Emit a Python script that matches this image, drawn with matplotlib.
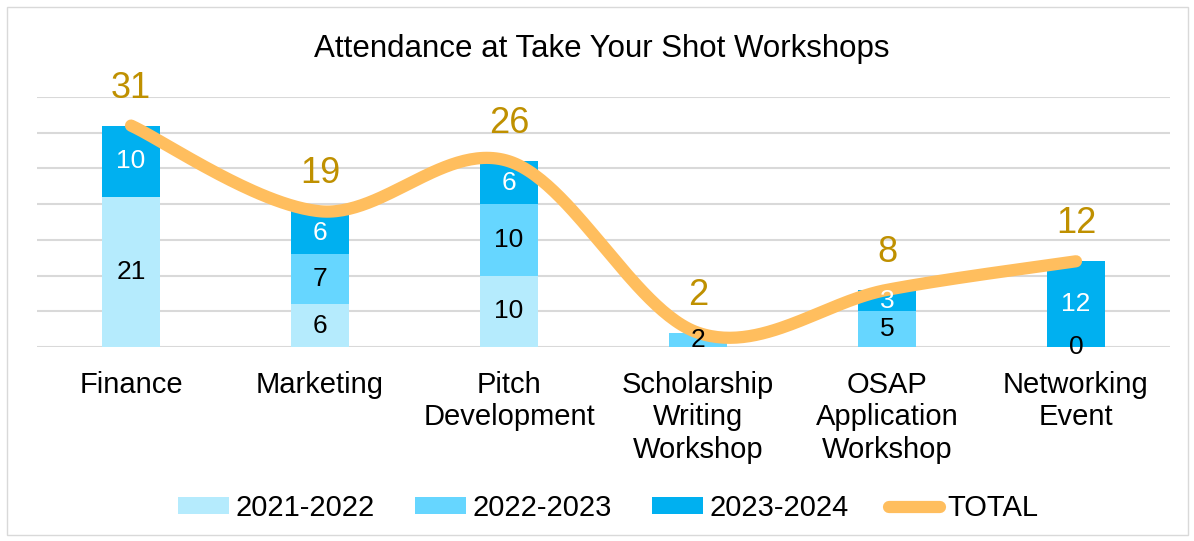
import numpy as np
import matplotlib
matplotlib.use('Agg')
import matplotlib.pyplot as plt
from matplotlib.patches import Rectangle

plt.rcParams['font.family'] = ['Liberation Sans', 'DejaVu Sans']

# data
categories = ["Finance", "Marketing", "Pitch\nDevelopment",
              "Scholarship\nWriting\nWorkshop", "OSAP\nApplication\nWorkshop",
              "Networking\nEvent"]
y2122 = [21, 6, 10, None, None, 0]
y2223 = [None, 7, 10, 2, 5, None]
y2324 = [10, 6, 6, None, 3, 12]
total = [31, 19, 26, 2, 8, 12]
series_names = ["2021-2022", "2022-2023", "2023-2024"]
series_colors = ["#B5EBFD", "#66D6FF", "#00B0F0"]
label_colors = ["black", "black", "white"]


def smooth(xs, ys, n=60):
  # Bezier smoothing like the office "smoothed line"
  pts = np.column_stack([xs, ys]).astype(float)
  out = []
  for i in range(len(pts) - 1):
    p0 = pts[i - 1] if i > 0 else pts[i]
    p1 = pts[i]
    p2 = pts[i + 1]
    p3 = pts[i + 2] if i + 2 < len(pts) else pts[i + 1]
    c1 = p1 + (p2 - p0) / 6.0
    c2 = p2 - (p3 - p1) / 6.0
    t = np.linspace(0, 1, n)[:, None]
    seg = ((1 - t) ** 3) * p1 + 3 * ((1 - t) ** 2) * t * c1 + \
          3 * (1 - t) * t ** 2 * c2 + t ** 3 * p2
    out.append(seg if i == 0 else seg[1:])
  out = np.vstack(out)
  return out[:, 0], out[:, 1]


fig = plt.figure(figsize=(11.94, 5.41), dpi=100)
ax = fig.add_axes([0.0306, 0.3586, 0.9497, 0.4621])

x = np.arange(len(categories))
bottom = np.zeros(len(categories))
for vals, name, col, lcol in zip([y2122, y2223, y2324], series_names,
                                 series_colors, label_colors):
  v = np.array([0 if a is None else a for a in vals], dtype=float)
  ax.bar(x, v, 0.31, bottom=bottom, color=col, label=name, zorder=2)
  for i, a in enumerate(vals):
    if a is not None:
      ax.text(x[i], bottom[i] + v[i] / 2.0, str(a), ha='center',
              va='center', fontsize=19, color=lcol, zorder=4)
  bottom += v

sx, sy = smooth(x, total)
ax.plot(sx, sy, color='#FFBE5E', lw=8.8, solid_capstyle='round', zorder=3,
        label='TOTAL')
for i, t in enumerate(total):
  ax.annotate(str(t), xy=(x[i], t), xytext=(0, 27), textcoords='offset points',
              ha='center', va='center', fontsize=26, color='#BF9000',
              zorder=5)

ax.set_xlim(-0.5, len(categories) - 0.5)
ax.set_ylim(0, 35)
ax.set_yticks(np.arange(0, 36, 5))
ax.set_yticklabels([])
ax.yaxis.grid(True, color='#D9D9D9', lw=1.5, zorder=0)
ax.set_axisbelow(True)
ax.tick_params(axis='both', length=0)
ax.tick_params(axis='x', pad=17, labelsize=21)
ax.set_xticks(x)
ax.set_xticklabels(categories, linespacing=1.22)
for s in ax.spines.values():
  s.set_visible(False)

fig.text(0.504, 0.909, "Attendance at Take Your Shot Workshops",
         ha='center', va='center', fontsize=22.5)

handles, labels = ax.get_legend_handles_labels()
order = [1, 2, 3, 0]
handles = [handles[i] for i in order]
labels = [labels[i] for i in order]
fig.legend(handles, labels, loc='center', bbox_to_anchor=(0.509, 0.061),
           ncol=4, frameon=False, fontsize=21, handlelength=1.75,
           handleheight=0.5, handletextpad=0.25, columnspacing=1.35)

fig.patches.append(Rectangle((7 / 1194.0, 6 / 541.0), 1181 / 1194.0,
                             528 / 541.0, transform=fig.transFigure,
                             fill=False, edgecolor='#D9D9D9', lw=1))

plt.savefig('out.png', dpi=100)
